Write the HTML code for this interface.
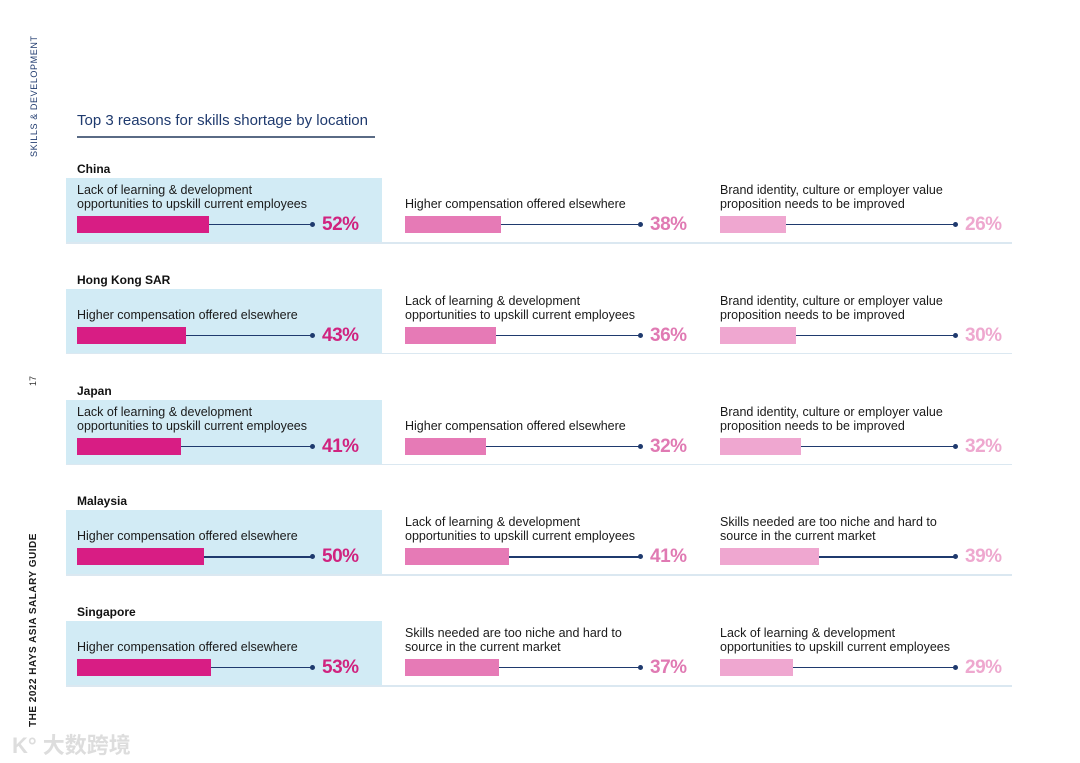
<!DOCTYPE html>
<html><head><meta charset="utf-8"><style>
body{margin:0;width:1080px;height:763px;background:#fff;position:relative;overflow:hidden;font-family:"Liberation Sans","Noto Sans CJK SC",sans-serif;}
.abs{position:absolute}
.side{position:absolute;transform:rotate(-90deg);transform-origin:left top;white-space:nowrap;color:#1f3a6e}
.lbl{position:absolute;font-size:12.5px;line-height:14px;color:#1a1a1a}
.ctry{position:absolute;font-size:12px;font-weight:bold;color:#111}
.pct{position:absolute;font-size:19px;font-weight:bold;letter-spacing:-0.5px}
</style></head><body>
<div class="side" style="left:29px;top:157px;font-size:9px;letter-spacing:0.6px">SKILLS &amp; DEVELOPMENT</div>
<div class="side" style="left:28px;top:386px;font-size:9px;color:#333">17</div>
<div class="side" style="left:28px;top:727px;font-size:10px;font-weight:bold;letter-spacing:0.5px;color:#1a1a1a">THE 2022 HAYS ASIA SALARY GUIDE</div>
<div class="abs" style="left:12px;top:728px;font-size:22px;color:#ddd;font-weight:bold">K° 大数跨境</div>
<div class="abs" style="left:77px;top:112px;font-size:15px;color:#1f3a6e">Top 3 reasons for skills shortage by location</div>
<div class="abs" style="left:77px;top:136px;width:298px;height:1.5px;background:#5a6b85"></div>
<div id="chart"></div>
<script>
const countries=["China","Hong Kong SAR","Japan","Malaysia","Singapore"];
const labels1=[["Lack of learning & development","opportunities to upskill current employees"],["Higher compensation offered elsewhere"],["Lack of learning & development","opportunities to upskill current employees"],["Higher compensation offered elsewhere"],["Higher compensation offered elsewhere"]];
const labels2=[["Higher compensation offered elsewhere"],["Lack of learning & development","opportunities to upskill current employees"],["Higher compensation offered elsewhere"],["Lack of learning & development","opportunities to upskill current employees"],["Skills needed are too niche and hard to","source in the current market"]];
const labels3=[["Brand identity, culture or employer value","proposition needs to be improved"],["Brand identity, culture or employer value","proposition needs to be improved"],["Brand identity, culture or employer value","proposition needs to be improved"],["Skills needed are too niche and hard to","source in the current market"],["Lack of learning & development","opportunities to upskill current employees"]];
const values1=[52,43,41,50,53];
const values2=[38,36,32,41,37];
const values3=[26,30,32,39,29];
const cols=[{x:77,c:"#d81d84",p:"#d0237f",L:labels1,V:values1},{x:405,c:"#e67ab6",p:"#e07ab3",L:labels2,V:values2},{x:720,c:"#efa7d0",p:"#eea8cf",L:labels3,V:values3}];
const scale=v=>v*2.53;
const root=document.getElementById('chart');
function mk(cls,style,txt){const d=document.createElement('div');d.className=cls;d.style.cssText=style;if(txt!==undefined)d.textContent=txt;root.appendChild(d);return d;}
countries.forEach((name,i)=>{
  const y0=167+i*110.8;
  const bg=mk('abs',`left:66px;top:${y0+11}px;width:316px;height:64px;background:#d2ebf5`);
  
  
  const sep=mk('abs',`left:66px;top:${y0+75}px;width:946px;height:1.5px;background:#dbe8f1`);
  
  
  const c=mk('ctry',`left:77px;top:${y0-5}px`,name);
  
  
  cols.forEach((col,j)=>{
    const lines=col.L[i];
    const ty=lines.length===2?y0+16:y0+30;
    const l=mk('lbl',`left:${col.x}px;top:${ty}px`);
    l.innerHTML=lines.map(s=>s.replace(/&/g,'&amp;')).join('<br>');
    
    
    const by=y0+49;
    const w=scale(col.V[i]);
    const ln=mk('abs',`left:${col.x}px;top:${by+8}px;width:236px;height:1.2px;background:#1f3a6e`);
    
    
    const dot=mk('abs',`left:${col.x+233}px;top:${by+6}px;width:5px;height:5px;border-radius:50%;background:#1f3a6e`);
    
    
    const b=mk('abs',`left:${col.x}px;top:${by}px;width:${w}px;height:17px;background:${col.c}`);
    
    
    const p=mk('pct',`left:${col.x+245}px;top:${by-2}px;color:${col.p}`,col.V[i]+'%');
    
    
  });
});
</script>
</body></html>
